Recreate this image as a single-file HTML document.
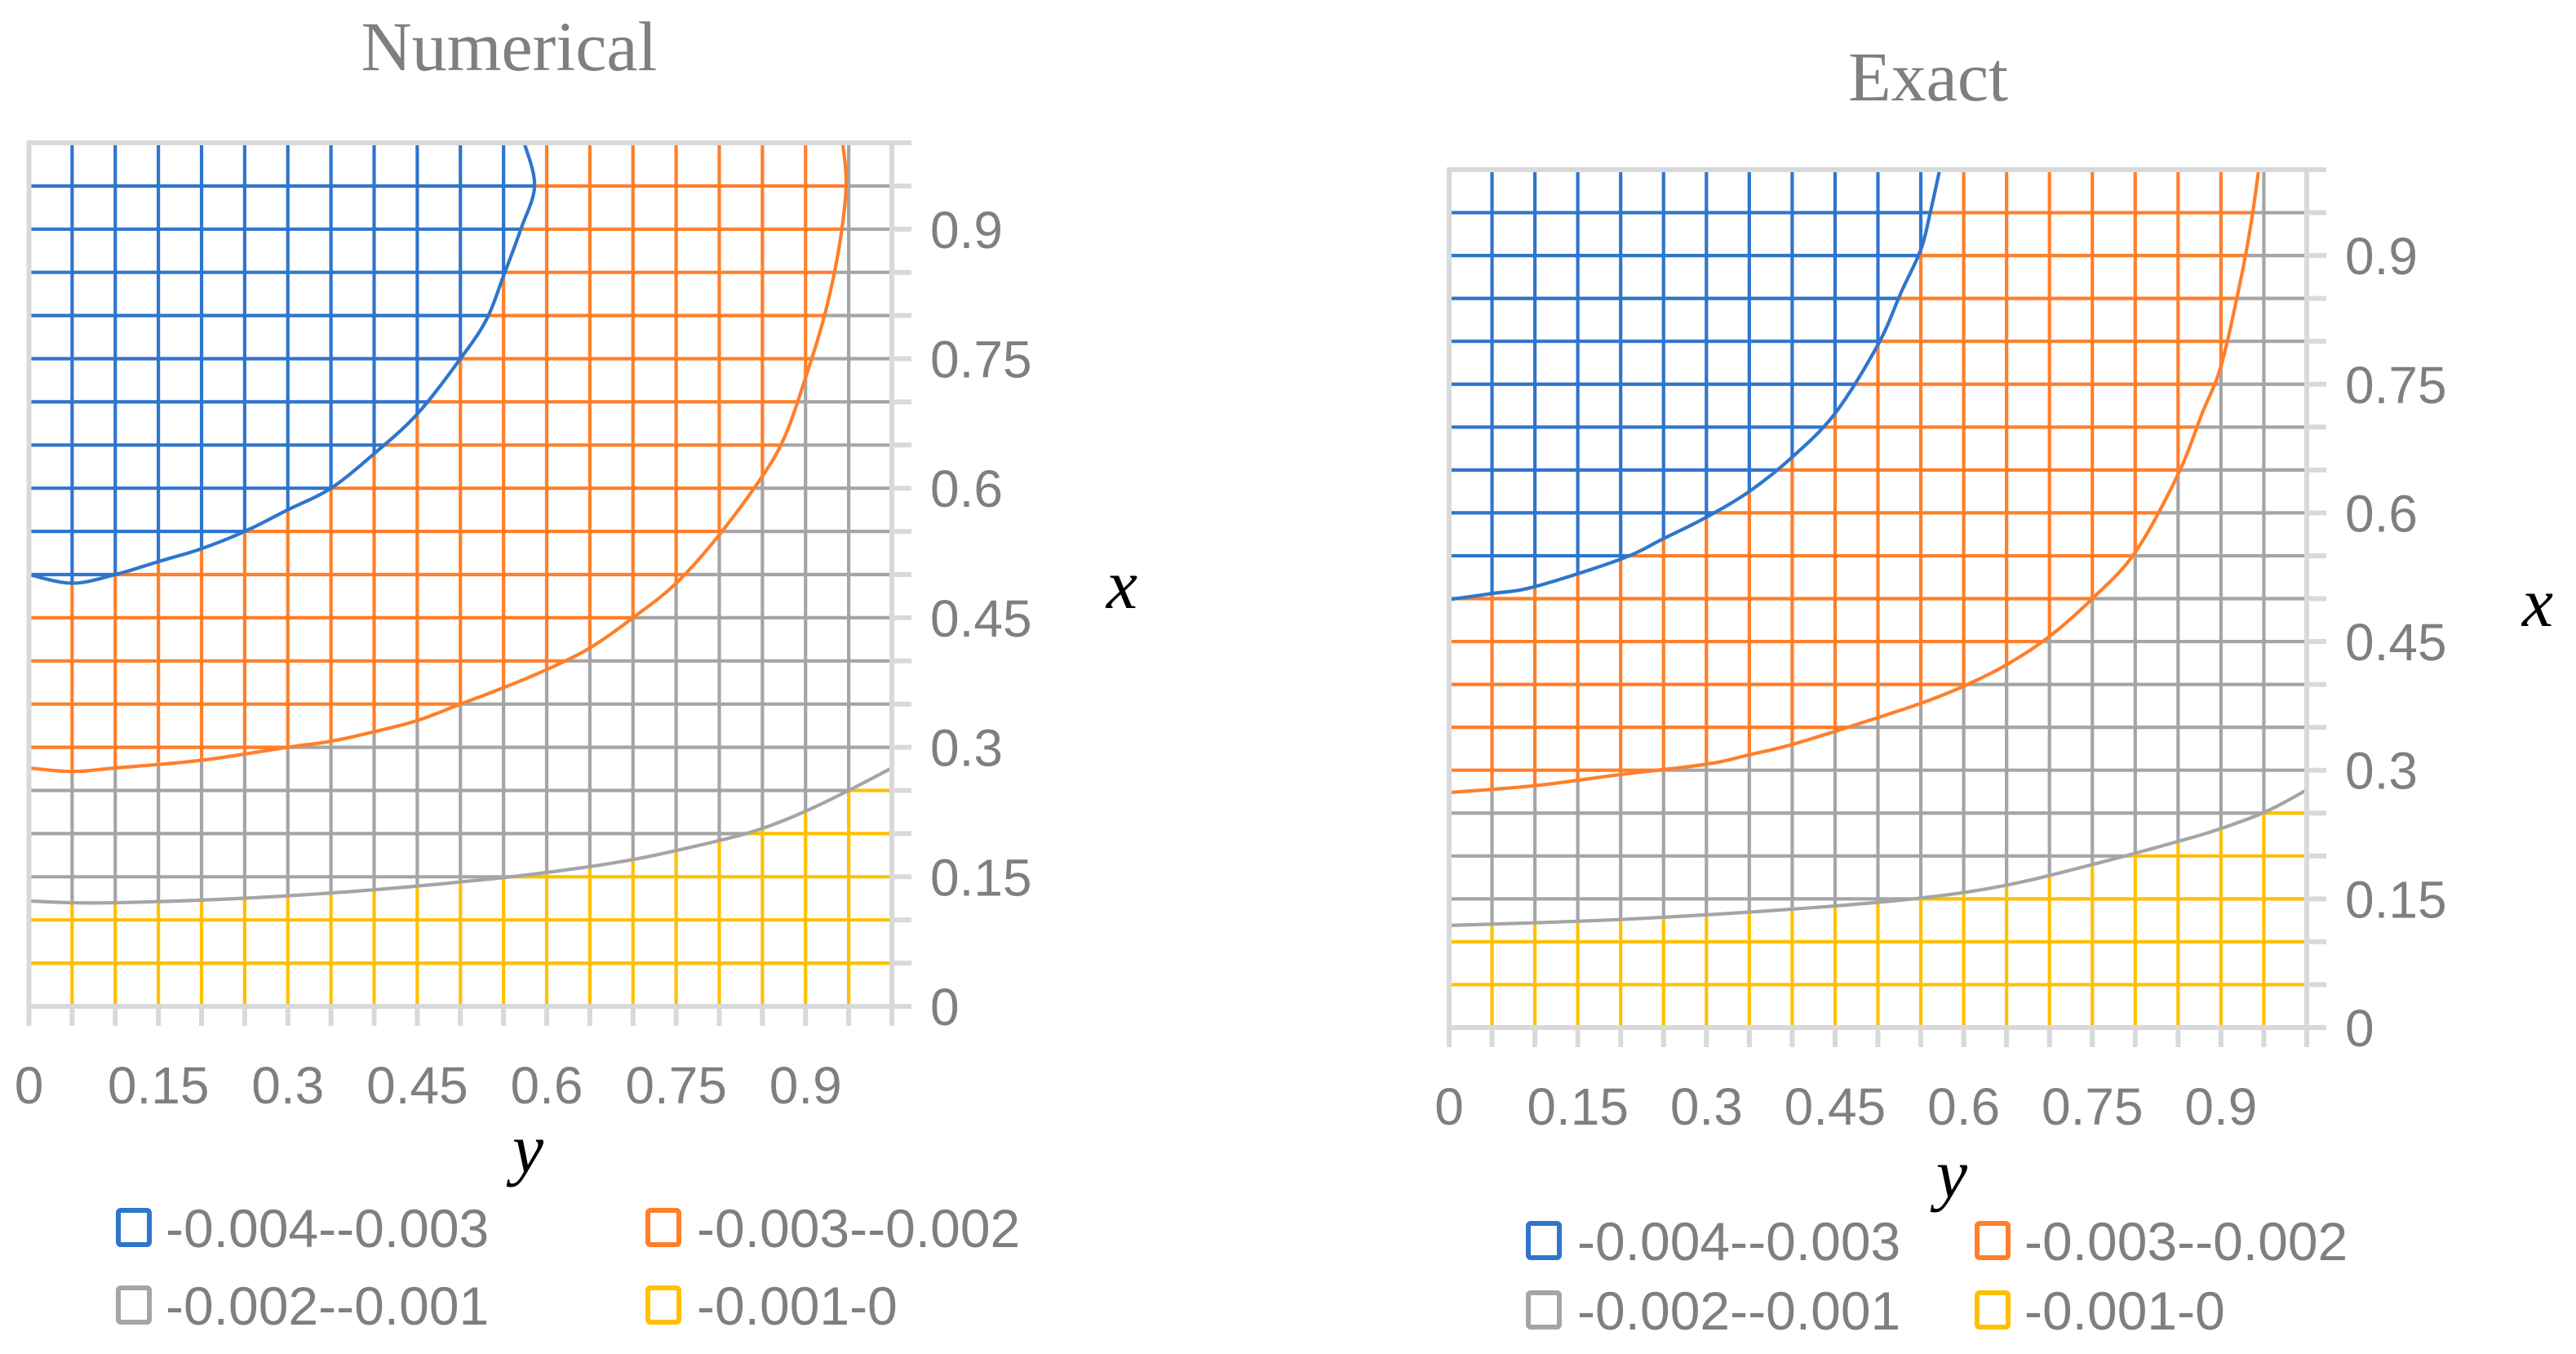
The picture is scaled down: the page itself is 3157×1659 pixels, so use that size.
<!DOCTYPE html>
<html><head><meta charset="utf-8"><style>
html,body{margin:0;padding:0;background:#fff;}
svg{display:block;}
text{font-family:"Liberation Sans",sans-serif;}
</style></head><body>
<svg id="root" width="3157" height="1659" viewBox="0 0 3157 1659" xmlns="http://www.w3.org/2000/svg">
<defs id="defs"></defs>
<g id="chartNum"></g>
<g id="chartExact"></g>
<text x="624" y="86" text-anchor="middle" font-size="86" fill="#7f7f7f" style="font-family:'Liberation Serif',serif">Numerical</text>
<text x="2363" y="123" text-anchor="middle" font-size="86" fill="#7f7f7f" style="font-family:'Liberation Serif',serif">Exact</text>
<text x="1375" y="745" text-anchor="middle" font-size="86" font-style="italic" fill="#000" style="font-family:'Liberation Serif',serif">x</text>
<text x="3110" y="767" text-anchor="middle" font-size="86" font-style="italic" fill="#000" style="font-family:'Liberation Serif',serif">x</text>
<text x="647" y="1436" text-anchor="middle" font-size="86" font-style="italic" fill="#000" style="font-family:'Liberation Serif',serif">y</text>
<text x="2392" y="1467" text-anchor="middle" font-size="86" font-style="italic" fill="#000" style="font-family:'Liberation Serif',serif">y</text>
<g id="legendNum"></g>
<g id="legendExact"></g>
</svg>
<script>
const numBlueY=[0,0.05,0.1,0.15,0.2,0.25,0.3,0.35,0.4,0.45,0.5,0.53,0.55,0.57,0.586,0.574];
const numBlueX=[0.5,0.49,0.5,0.515,0.53,0.55,0.575,0.6,0.64,0.686,0.75,0.795,0.846,0.9,0.95,1.0];
const numOrangeY=[0,0.05,0.1,0.2,0.3,0.35,0.4,0.45,0.5,0.55,0.6,0.65,0.7,0.75,0.8,0.85,0.876,0.9,0.923,0.939,0.947,0.943];
const numOrangeX=[0.276,0.272,0.276,0.285,0.30,0.307,0.318,0.331,0.35,0.369,0.39,0.415,0.45,0.49,0.546,0.614,0.66,0.728,0.804,0.88,0.95,1.0];
const numGrayY=[0,0.05,0.1,0.2,0.3,0.4,0.5,0.6,0.7,0.8,0.85,0.9,0.95,1.0];
const numGrayX=[0.122,0.12,0.12,0.123,0.128,0.135,0.144,0.155,0.17,0.192,0.206,0.226,0.25,0.276];

const exBlueY=[0,0.05,0.1,0.2,0.25,0.3,0.35,0.4,0.45,0.5,0.527,0.55,0.561,0.572];
const exBlueX=[0.499,0.506,0.514,0.546,0.57,0.595,0.625,0.665,0.716,0.796,0.857,0.907,0.95,1.0];
const exOrangeY=[0,0.1,0.2,0.3,0.35,0.4,0.474,0.55,0.6,0.65,0.7,0.75,0.8,0.85,0.878,0.9,0.922,0.935,0.944];
const exOrangeX=[0.274,0.282,0.295,0.307,0.318,0.33,0.353,0.378,0.398,0.423,0.456,0.5,0.554,0.645,0.716,0.771,0.867,0.937,1.0];
const exGrayY=[0,0.2,0.4,0.55,0.65,0.75,0.85,0.9,0.953,1.0];
const exGrayX=[0.119,0.126,0.138,0.151,0.166,0.19,0.217,0.232,0.252,0.277];

const tickValues=[0,0.15,0.3,0.45,0.6,0.75,0.9];
const tickLabels=["0","0.15","0.3","0.45","0.6","0.75","0.9"];
const legendLabels=["-0.004--0.003","-0.003--0.002","-0.002--0.001","-0.001-0"];
const gridCount=20;

const NS="http://www.w3.org/2000/svg";
const COL={blue:"#2F75CC",orange:"#FF7F2A",gray:"#A5A5A5",yellow:"#FFC000",axis:"#D9D9D9",text:"#7f7f7f"};
const defs=document.getElementById('defs');
function mk(tag,attrs,parent){const e=document.createElementNS(NS,tag);for(const k in attrs)e.setAttribute(k,attrs[k]);parent.appendChild(e);return e;}
// Catmull-Rom smoothing into dense point list
function smooth(p){
  if(p.length<3)return p.slice();
  const out=[];
  for(let i=0;i<p.length-1;i++){
    const p0=p[Math.max(0,i-1)],p1=p[i],p2=p[i+1],p3=p[Math.min(p.length-1,i+2)];
    for(let s=0;s<8;s++){
      const t=s/8,t2=t*t,t3=t2*t;
      const f=(a,b,c,d)=>0.5*((2*b)+(-a+c)*t+(2*a-5*b+4*c-d)*t2+(-a+3*b-3*c+d)*t3);
      out.push([f(p0[0],p1[0],p2[0],p3[0]),f(p0[1],p1[1],p2[1],p3[1])]);
    }
  }
  out.push(p[p.length-1]);
  return out;
}

function drawChart(g,prefix,P,blueY,blueX,orY,orX,grY,grX,labelBaseY){
  const sx=v=>P.x0+v*P.w;
  const sy=v=>P.top+P.h-v*P.h;
  const pts=(Y,X)=>smooth(Y.map((y,i)=>[sx(y),sy(X[i])]));
  const blue=pts(blueY,blueX),orange=pts(orY,orX),gray=pts(grY,grX);
  const rev=a=>a.slice().reverse();
  const regions=[
    ["yellow",COL.yellow,gray.concat([[sx(1),sy(0)],[sx(0),sy(0)]])],
    ["gray",COL.gray,gray.concat([[sx(1),sy(1)]],rev(orange))],
    ["orange",COL.orange,orange.concat(rev(blue))],
    ["blue",COL.blue,blue.concat([[sx(0),sy(1)]])]
  ];
  regions.forEach(([name,color,poly])=>{
    const cp=mk('clipPath',{id:prefix+'-clip-'+name},defs);
    mk('polygon',{points:poly.map(p=>p.join(',')).join(' ')},cp);
    const rg=mk('g',{'clip-path':'url(#'+prefix+'-clip-'+name+')'},g);
    
    
    for(let k=1;k<gridCount;k++){
      const v=k/gridCount;
      mk('line',{x1:P.x0,x2:P.x0+P.w,y1:sy(v),y2:sy(v),stroke:color,'stroke-width':4.2},rg);
      mk('line',{x1:sx(v),x2:sx(v),y1:P.top,y2:P.top+P.h,stroke:color,'stroke-width':4.2},rg);
    }
  });
  [["gray",COL.gray,gray],["orange",COL.orange,orange],["blue",COL.blue,blue]].forEach(([n,c,p])=>{
    const pl=mk('polyline',{points:p.map(q=>q.join(',')).join(' '),fill:'none',stroke:c,'stroke-width':4.2,'stroke-linejoin':'round'},g);
    
    
  });
  const ax=mk('g',{},g);
  
  
  mk('rect',{x:P.x0,y:P.top,width:P.w,height:P.h,fill:'none',stroke:COL.axis,'stroke-width':6},ax);
  for(let k=0;k<=gridCount;k++){
    const v=k/gridCount;
    mk('line',{x1:P.x0+P.w,x2:P.x0+P.w+24,y1:sy(v),y2:sy(v),stroke:COL.axis,'stroke-width':6},ax);
    mk('line',{x1:sx(v),x2:sx(v),y1:P.top+P.h,y2:P.top+P.h+24,stroke:COL.axis,'stroke-width':6},ax);
  }
  tickValues.forEach((v,i)=>{
    const t=mk('text',{x:P.x0+P.w+47,y:sy(v)+23,'font-size':64,fill:COL.text},g);
    t.textContent=tickLabels[i];
    
    
    const b=mk('text',{x:sx(v),y:labelBaseY,'font-size':64,fill:COL.text,'text-anchor':'middle'},g);
    b.textContent=tickLabels[i];
    
    
  });
}
drawChart(document.getElementById('chartNum'),'num',{x0:35.5,top:175,w:1057.5,h:1058},numBlueY,numBlueX,numOrangeY,numOrangeX,numGrayY,numGrayX,1352);
drawChart(document.getElementById('chartExact'),'ex',{x0:1776,top:208,w:1051,h:1051},exBlueY,exBlueX,exOrangeY,exOrangeX,exGrayY,exGrayX,1378);

function drawLegend(g,L){
  const cols=[COL.blue,COL.orange,COL.gray,COL.yellow];
  legendLabels.forEach((lab,i)=>{
    const cx=i%2===0?L.sq1:L.sq2, tx=i%2===0?L.t1:L.t2, cy=i<2?L.r1:L.r2;
    const it=mk('g',{},g);
    
    
    mk('rect',{x:cx+3,y:cy-21,width:38,height:42,rx:3,fill:'none',stroke:cols[i],'stroke-width':6},it);
    const t=mk('text',{x:tx,y:cy+24,'font-size':66,fill:COL.text},it);
    t.textContent=lab;
  });
}
drawLegend(document.getElementById('legendNum'),{sq1:142,sq2:791,t1:203,t2:854,r1:1504,r2:1599});
drawLegend(document.getElementById('legendExact'),{sq1:1870,sq2:2420,t1:1933,t2:2481,r1:1520,r2:1605});
</script>
</body></html>
